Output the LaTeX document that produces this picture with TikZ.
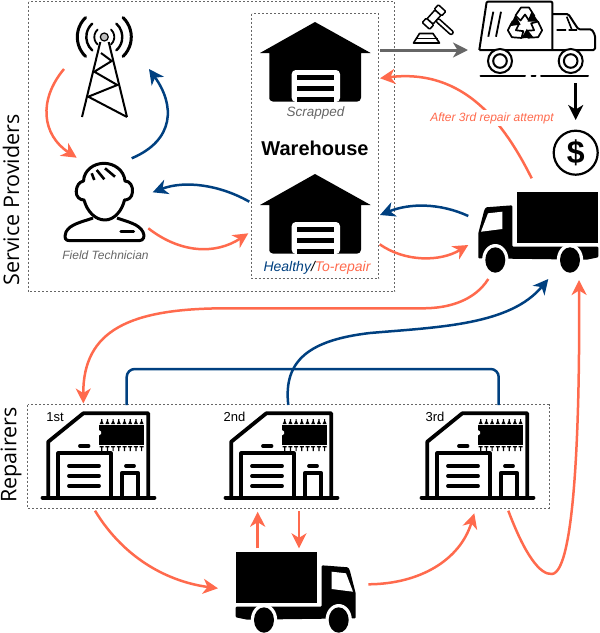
\documentclass[tikz,border=0pt]{standalone}
\usepackage{fontspec}
\setmainfont{Liberation Sans}
\newfontfamily\sidefont{Open Sans}
\usetikzlibrary{arrows.meta}
\definecolor{repairred}{HTML}{FF6A4D}
\definecolor{healthyblue}{HTML}{004080}
\definecolor{dotgray}{HTML}{666666}
\tikzset{
  groupbox/.style={draw=dotgray,line width=0.8pt,dash pattern=on 2pt off 2pt},
  redline/.style={draw=repairred,line width=2.5pt},
  blueline/.style={draw=healthyblue,line width=2.5pt},
  grayline/.style={draw=dotgray,line width=3pt},
  blackline/.style={draw=black,line width=2.5pt},
  caption/.style={font=\fontsize{12}{14}\selectfont\itshape,text=dotgray,inner sep=0pt},
  sidelabel/.style={rotate=90,inner sep=0pt,font=\sidefont\fontsize{21.5}{24}\selectfont},
  rank/.style={inner sep=0pt,font=\fontsize{13}{15}\selectfont},
  warehouse/.pic={
    \fill (0,0)--(55.7,31)--(46,31)--(46,74)[rounded corners=4pt]--(46,79.7)--(-45.7,79.7)--(-45.7,74)[sharp corners]--(-45.7,31)--(-55,31)--cycle;
    \fill[white,rounded corners=4pt] (-23.3,80)--(-23.3,48)--(25,48)--(25,80)--cycle;
    \foreach \bary in {53,64,74.5}
      \fill (-18,\bary) rectangle (19,\bary+5.2);
  },
  factory/.pic={
    \draw[line width=3.8pt,line join=round] (48.3,497)--(48.3,441.7)--(83.3,413.3)--(148.3,413.3)--(148.3,497);
    \draw[line width=3.8pt,line cap=round] (42.5,497.7)--(154.5,497.7);
    \draw[line width=3.8pt,line join=round] (58.3,497)--(58.3,453.3)--(110.7,453.3)--(110.7,497);
    \draw[line width=3.8pt,line join=round] (121.7,497)--(121.7,473.3)--(138.3,473.3)--(138.3,497);
    \foreach \bary in {466,476,486}
      \draw[line width=3.8pt,line cap=round] (69,\bary)--(99,\bary);
    \draw[line width=3.8pt,line cap=round] (80,446)--(88.5,446);
    \draw[line width=3.8pt,line cap=round] (126,466)--(134,466);
    \fill (99.3,425) rectangle (144,444.5);
    \fill[white] (98.8,430)--(101,431.5)--(101,434)--(98.8,435.5)--cycle;
    \foreach \pinx in {0,...,7} {
      \fill ({101.7+\pinx*5.7-2},424)--({101.7+\pinx*5.7-0.6},421)--({101.7+\pinx*5.7-0.6},419)--({101.7+\pinx*5.7+0.6},419)--({101.7+\pinx*5.7+0.6},421)--({101.7+\pinx*5.7+2},424)--cycle;
      \fill ({101.7+\pinx*5.7-2},446)--({101.7+\pinx*5.7+2},446)--({101.7+\pinx*5.7+2},447.3)--({101.7+\pinx*5.7+0.6},447.3)--({101.7+\pinx*5.7+0.6},451)--({101.7+\pinx*5.7-0.6},451)--({101.7+\pinx*5.7-0.6},447.3)--({101.7+\pinx*5.7-2},447.3)--cycle;
    }
  },
  truck/.pic={
    \fill (517.3,192) rectangle (598.3,243.3);
    \fill[rounded corners=1pt] (478.3,233.3)--(484.3,210)--(486,207.3)--(512.3,205.3)--(512.3,246.7)--(598.3,246.7)--(598.3,257.3)--(586.7,259.7)--(478.3,258.3)--cycle;
    \fill[white] (481,231.7)--(488,213.3)--(502.3,211.7)--(502.3,229)--cycle;
    \foreach \wheelx in {495.3,570} {
      \fill[white] (\wheelx,260) ellipse[x radius=13.2,y radius=16];
      \fill (\wheelx,260) ellipse[x radius=10,y radius=12.7];
    }
  },
}
\begin{document}
\begin{tikzpicture}[x=1pt,y=-1pt,>={Stealth[length=15pt,width=15pt,inset=4.5pt]}]
  \useasboundingbox (0,0) rectangle (600,633);
  % group frames
  \draw[groupbox] (28.5,1.5) rectangle (394.5,291.5);
  \draw[groupbox] (251.5,13.5) rectangle (378.5,278.5);
  \draw[groupbox] (27.5,404.7) rectangle (549,508);
  \node[sidelabel] (providers) at (11,200) {Service Providers};
  \node[sidelabel] (repairers) at (11,455) {Repairers};

  % tower
  \draw[line width=2pt] (100.3,42)--(82,117) (108.7,42)--(127,117);
  \draw[line width=2pt] (101,53)--(111.7,61)--(94.3,71.7)--(117.3,85)--(88.3,96.7)--(127,117);
  \draw[fill=lightgray,line width=1.2pt] (104.3,37) circle (4);
  \foreach \wave/\waveang/\wavew in {10/48/1.8,18/48/2.4,27/46/3}{
    \draw[line width=\wavew pt,line cap=round] (104.3,37)++({180-\waveang}:\wave)arc({180-\waveang}:{180+\waveang}:\wave);
    \draw[line width=\wavew pt,line cap=round] (104.3,37)++({-\waveang}:\wave)arc({-\waveang}:{\waveang}:\wave);
  }

  % technician
  \draw[line width=3pt,line join=round,fill=white] (83.5,181).. controls (84,170) and (94,163.3) .. (104,163.3).. controls (114,163.3) and (124,170) .. (125,181)
    .. controls (130,181) and (133,186) .. (132.5,192).. controls (132,198) and (128,200) .. (124.5,200)
    .. controls (122,211) and (114,220) .. (105,220).. controls (95,220) and (87,211) .. (84,200)
    .. controls (80,200) and (76,197) .. (76.2,191.5).. controls (76.5,186) and (79,182) .. (83.5,181)--cycle;
  \draw[line width=2.6pt] (91.7,173.3)--(94.3,180) (96.7,170)--(104.3,179.3) (105,168.3)--(115,176.7);
  \draw[line width=3pt,line join=round] (93,218).. controls (82,222) and (70,224) .. (66,232).. controls (64,238) and (65,240.7) .. (70,240.7)--(139,240.7).. controls (144,240.7) and (145,236) .. (143,232).. controls (139,224) and (128,222) .. (117,218);
  \draw[line width=3.4pt,line cap=round] (121,231.7)--(133.5,231.7);
  \node[caption] (techname) at (105.5,255) {Field Technician};

  % warehouses
  \pic at (315,22) {warehouse};
  \pic at (315,174) {warehouse};
  \node[caption,font=\fontsize{13.5}{15}\selectfont\itshape] (scrapped) at (315.5,113.5) {Scrapped};
  \node[inner sep=0pt,font=\fontsize{20}{23}\selectfont\bfseries] (whouse) at (315,148) {Warehouse};
  \node[inner sep=0pt,font=\fontsize{14}{16}\selectfont\itshape] (stock) at (317,268) {\textcolor{healthyblue}{Healthy}/\textcolor{repairred}{To-repair}};

  % gavel
  \draw[line width=1.6pt,line join=round,fill=white] (413.5,43)--(419.5,33.5)--(433,33.5)--(439.5,43)--cycle;
  \draw[line width=1.2pt] (415.5,38.5)--(437.5,38.5);
  \begin{scope}[shift={(434,17)},rotate=-42]
    \draw[line width=1.5pt,fill=white,rounded corners=1pt] (-4,-6)--(4,-6)--(4,6)--(-4,6)--cycle;
    \draw[line width=1.5pt,fill=white,rounded corners=1pt] (-5,-12)--(5,-12)--(5,-6)--(-5,-6)--cycle;
    \draw[line width=1.5pt,fill=white,rounded corners=1pt] (-5,6)--(5,6)--(5,12)--(-5,12)--cycle;
    \draw[line width=1.5pt,fill=white,rounded corners=2pt] (4,-2)--(25,-2)--(25,2)--(4,2)--cycle;
  \end{scope}

  % recycling truck
  \draw[line width=2pt,line join=round,rounded corners=1pt] (479.3,50)--(486.7,1.7)--(552.3,1.7)--(552.3,50);
  \draw[line width=2pt,line join=round,rounded corners=1.5pt] (552.3,14)--(568.3,14)--(578.3,29.3)--(591.7,29.3)--(595,35)--(595,50)--(479.3,50);
  \draw[line width=1.6pt] (556.7,30)--(566,30) (568.5,30)--(577,30) (566.7,16.7)--(571.7,29.3);
  \draw[line width=1.8pt] (493.3,11.7)--(488.3,36.7) (501,11.7)--(496,36.7);
  \foreach \ang in {0,120,240}{
    \begin{scope}[rotate around={\ang:(525,25)}]
      \draw[line width=1.7pt,fill=white,line join=round] (515.5,15.5)--(521,7.5)--(529,7.5)--(534.5,16)--(529,20.5)--(525,14.5)--(520.5,20.5)--cycle;
      \fill (531.5,11.5)--(538.5,21.5)--(527.5,21.5)--cycle;
    \end{scope}
  }
  \foreach \wheelx in {500,570.7}{
    \draw[line width=2pt,fill=white] (\wheelx,61) circle (12);
    \draw[line width=2pt] (\wheelx,61) circle (6.8);
  }
  \draw[line width=2pt,line cap=round] (480.5,75.7)--(525,75.7) (531.5,75.7)--(535.5,75.7) (541,75.7)--(588,75.7);

  % dollar coin
  \node[draw,circle,line width=2.2pt,minimum size=44pt,inner sep=0pt,font=\fontsize{32}{36}\selectfont\bfseries] (coin) at (575.7,152.7) {\$};

  % trucks
  \pic at (0,0) {truck};
  \pic[xscale=-1] at (834,360) {truck};

  % factories
  \pic at (0,0) {factory};
  \pic at (183,0) {factory};
  \pic at (379,0) {factory};
  \node[rank] (first) at (55,417) {1st};
  \node[rank] (second) at (234.5,417) {2nd};
  \node[rank] (third) at (435,417) {3rd};

  % connector ends
  \coordinate (towerout) at (64,69);
  \coordinate (techin) at (76.7,157.7);
  \coordinate (techout) at (131.7,158.3);
  \coordinate (towerin) at (149,69);
  \coordinate (healthyout) at (249.3,201.7);
  \coordinate (techback) at (152.7,192.3);
  \coordinate (techsend) at (148.3,228.3);
  \coordinate (healthyin) at (248.3,233.3);
  \coordinate (truckout) at (468.3,216);
  \coordinate (healthyback) at (380,215);
  \coordinate (stockout) at (379.7,244.3);
  \coordinate (truckin) at (468.3,245);
  \coordinate (truckscrap) at (531.7,178.3);
  \coordinate (scrapin) at (380,78.3);
  \coordinate (scrapout) at (380,50);
  \coordinate (recyclein) at (468,50);
  \coordinate (recycleout) at (575.7,83);
  \coordinate (coinin) at (575.7,120);
  \coordinate (trucksend) at (488.3,279);
  \coordinate (firstin) at (83.3,403.5);
  \coordinate (firstback) at (126.7,405);
  \coordinate (thirdback) at (498.7,405);
  \coordinate (secondback) at (288.3,405);
  \coordinate (truckreturn) at (548.3,279);
  \coordinate (firstout) at (95,510.7);
  \coordinate (vanin) at (218,588.3);
  \coordinate (vanup) at (257.7,548.3);
  \coordinate (secondin) at (257.7,511.7);
  \coordinate (secondout) at (299,511);
  \coordinate (vandown) at (299,548.3);
  \coordinate (vanout) at (368.3,584.3);
  \coordinate (thirdin) at (474.3,513.3);
  \coordinate (thirdout) at (508.3,510.7);
  \coordinate (truckback) at (579,280);

  % connectors
  \draw[redline,->] (towerout).. controls (38,100) and (42,135) .. (techin);
  \draw[blueline,->] (techout).. controls (175,140) and (175,105) .. (towerin);
  \draw[blueline,->] (healthyout).. controls (220,185) and (185,180) .. (techback);
  \draw[redline,->] (techsend).. controls (180,253) and (215,255) .. (healthyin);
  \draw[blueline,->] (truckout).. controls (440,203) and (410,203) .. (healthyback);
  \draw[redline,->] (stockout).. controls (405,262) and (440,262) .. (truckin);
  \draw[redline,->] (truckscrap).. controls (505,125) and (465,68) .. (scrapin);
  \draw[grayline,->] (scrapout)--(recyclein);
  \draw[blackline,->] (recycleout)--(coinin);
  \draw[redline,->] (trucksend).. controls (475,300) and (450,308.3) .. (423,308.3)--(226.7,308.3).. controls (130,308.3) and (83,330) .. (firstin);
  \draw[blueline,rounded corners=8pt] (firstback)--++(0,-36)-|(thirdback);
  \draw[blueline,->] (secondback).. controls (283,360) and (310,340) .. (370,333).. controls (440,327) and (510,325) .. (truckreturn);
  \draw[redline,->] (firstout).. controls (125,560) and (170,582) .. (vanin);
  \draw[redline,->] (vanup)--(secondin);
  \draw[redline,->] (secondout)--(vandown);
  \draw[redline,->] (vanout).. controls (420,584) and (460,560) .. (thirdin);
  \draw[redline,->] (thirdout).. controls (525,555) and (540,575) .. (552,574).. controls (575,572) and (580,420) .. (truckback);
  \node[inner sep=2pt,fill=white,text=repairred,font=\fontsize{12}{14}\selectfont\itshape] (attempt) at (492,118) {After 3rd repair attempt};
\end{tikzpicture}
\end{document}
